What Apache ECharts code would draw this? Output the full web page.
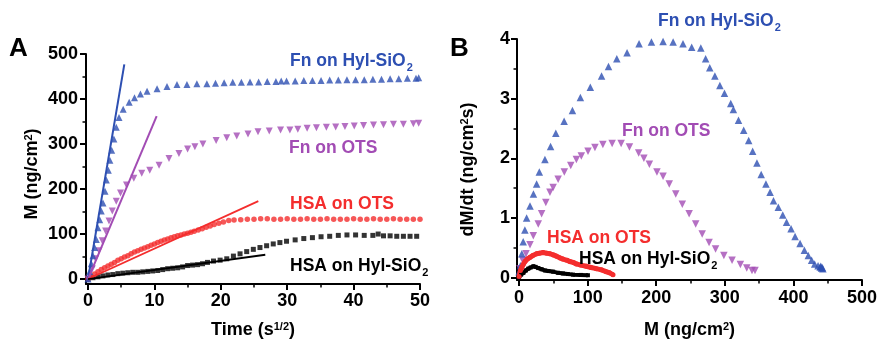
<!DOCTYPE html>
<html>
<head>
<meta charset="utf-8">
<script src="https://cdn.jsdelivr.net/npm/echarts@6/dist/echarts.min.js"></script>
<style>
html, body { margin: 0; padding: 0; background: #fff; }
#main { width: 880px; height: 344px; }
</style>
</head>
<body>
<div id="main"></div>
<script>
// panel A: adsorbed mass vs time (s^1/2)
const fnHylTimeA = [0, 0.25, 0.5, 0.75, 1.0, 1.25, 1.5, 1.76, 2.0, 2.26, 2.56, 2.76, 3.06, 3.3, 3.57, 3.9, 4.26, 4.67, 5.3, 6.2, 7.0, 7.9, 8.9, 10.4, 11.9, 13.4, 14.9, 16.4, 17.9, 19.2, 20.5, 21.8, 23.1, 24.4, 25.7, 27.0, 28.3, 29.1, 29.9, 31.2, 32.5, 33.8, 35.1, 36.4, 37.7, 39.0, 40.3, 41.6, 42.9, 44.2, 45.5, 46.8, 48.1, 49.4, 49.8];
const fnHylMassA = [0, 17, 34, 52, 70, 88, 114, 132, 151, 169, 195, 220, 242, 264, 286, 311, 337, 359, 377, 393, 403, 411, 417, 423, 428, 432, 432, 434, 434, 435, 436, 437, 437, 438, 438, 439, 439, 440, 440, 440, 441, 441, 441, 442, 442, 443, 443, 443, 444, 444, 445, 445, 446, 446, 447];

const fnOtsTimeA = [0, 0.65, 1.15, 1.66, 2.15, 2.66, 3.16, 3.66, 4.26, 4.9, 5.8, 6.9, 8.1, 9.3, 10.7, 12.2, 13.7, 15.0, 16.1, 17.3, 19.3, 20.9, 22.4, 24.1, 25.6, 27.3, 29.0, 30.4, 31.6, 33.0, 34.4, 35.9, 37.3, 38.7, 40.1, 41.5, 43.0, 44.5, 46.0, 47.5, 49.0, 49.8];
const fnOtsMassA = [0, 23, 45, 63, 85, 107, 129, 151, 173, 191, 209, 224, 235, 242, 253, 268, 279, 289, 294, 300, 308, 314, 318, 322, 327, 329, 331, 331, 333, 335, 336, 337, 338, 339, 340, 341, 342, 343, 344, 344, 345, 346];

const hsaOtsTimeA = [0, 0.5, 1.0, 1.5, 2.0, 2.5, 3.0, 3.5, 4.0, 4.5, 5.0, 5.5, 6.0, 6.5, 7.0, 7.5, 8.0, 8.5, 9.0, 9.5, 10.0, 10.5, 11.0, 11.5, 12.0, 12.5, 13.0, 13.5, 14.0, 14.5, 15.0, 15.5, 16.0, 16.6, 17.2, 17.8, 18.4, 19.0, 19.7, 20.4, 21.2, 22.0, 23.0, 24.0, 25.0, 26.0, 27.0, 28.0, 29.0, 30.0, 31.0, 32.0, 33.0, 34.0, 35.0, 36.0, 37.0, 38.0, 39.0, 40.0, 41.0, 42.0, 43.0, 44.0, 45.0, 46.0, 47.0, 48.0, 49.0, 50.0];
const hsaOtsMassA = [0, 5, 11, 16, 21, 25, 29, 33, 37, 42, 45, 49, 52, 56, 60, 63, 66, 69, 72, 75, 78, 81, 84, 87, 89, 92, 94, 96, 98, 100, 102, 104, 106, 109, 112, 115, 118, 121, 124, 127, 130, 131, 132, 133, 133, 134, 134, 133, 133, 134, 133, 133, 134, 133, 133, 134, 133, 133, 133, 134, 133, 133, 134, 133, 133, 134, 133, 133, 133, 133];

const hsaHylTimeA = [0, 0.75, 1.5, 2.25, 3.0, 3.75, 4.5, 5.25, 6.0, 6.75, 7.5, 8.25, 9.0, 9.75, 10.5, 11.25, 12.0, 12.75, 13.5, 14.25, 15.0, 15.75, 16.5, 17.25, 18.0, 18.9, 19.9, 20.9, 21.9, 22.9, 23.9, 24.9, 25.9, 26.9, 27.9, 28.9, 29.9, 31.2, 32.5, 33.8, 35.1, 36.4, 37.7, 39.0, 40.3, 41.6, 42.9, 43.7, 44.5, 45.5, 46.5, 47.5, 48.5, 49.5];
const hsaHylMassA = [0, 3, 5, 7, 9, 10, 12, 13, 14, 15, 15, 16, 17, 18, 19, 21, 23, 24, 25, 27, 30, 31, 32, 34, 37, 40, 42, 45, 51, 56, 61, 66, 70, 74, 78, 81, 84, 87, 90, 92, 94, 95, 97, 98, 98, 97, 97, 100, 96, 96, 95, 95, 95, 95];

// initial-slope fit lines, panel A
const fnHylFitT = [0, 5.47], fnHylFitM = [0, 477];
const fnOtsFitT = [0, 10.34], fnOtsFitM = [0, 362];
const hsaOtsFitT = [0, 25.65], hsaOtsFitM = [0, 173];
const hsaHylFitT = [0, 26.7], hsaHylFitM = [0, 54];

// panel B: adsorption rate vs adsorbed mass
const fnHylMassB = [0, 2, 4, 6, 8.5, 11, 16, 21, 25.6, 29.5, 37.7, 45.9, 53.6, 65.7, 77.8, 89.4, 103.9, 120.3, 130.4, 142.5, 157.5, 175, 193, 210, 224.6, 239, 251.7, 265, 272, 278, 285.5, 292.8, 299.5, 308.7, 312.5, 320, 327.5, 334.8, 340.6, 346.8, 353, 360, 366, 371, 378, 384.5, 390, 396.6, 402.4, 409.7, 416, 421.7, 426.6, 431, 436, 439, 441, 443, 442, 440];
const fnHylRateB = [0.1, 0.2, 0.4, 0.6, 0.8, 1.0, 1.2, 1.4, 1.57, 1.77, 1.98, 2.2, 2.42, 2.62, 2.8, 3.02, 3.19, 3.38, 3.54, 3.67, 3.77, 3.92, 3.95, 3.96, 3.95, 3.92, 3.86, 3.85, 3.67, 3.52, 3.38, 3.22, 3.09, 2.92, 2.82, 2.64, 2.47, 2.3, 2.12, 1.92, 1.73, 1.57, 1.43, 1.29, 1.18, 1.05, 0.93, 0.82, 0.69, 0.57, 0.46, 0.37, 0.29, 0.23, 0.2, 0.18, 0.16, 0.15, 0.17, 0.19];

const fnOtsMassB = [1.4, 5.3, 10.1, 16, 20.8, 28, 32.9, 39, 45, 49.7, 57, 66, 75.4, 83.6, 90.8, 100.5, 110.6, 122.2, 135.7, 148.8, 160.9, 174.4, 182, 190, 201, 210, 219, 228.5, 238, 248, 257.5, 267, 277, 286.5, 298.6, 310.6, 322.7, 332, 339.6, 344];
const fnOtsRateB = [0.15, 0.29, 0.4, 0.55, 0.7, 0.9, 1.07, 1.26, 1.43, 1.51, 1.65, 1.77, 1.88, 1.98, 2.04, 2.12, 2.18, 2.23, 2.25, 2.25, 2.19, 2.09, 2.0, 1.9, 1.77, 1.7, 1.57, 1.4, 1.23, 1.07, 0.9, 0.73, 0.59, 0.48, 0.37, 0.29, 0.22, 0.16, 0.12, 0.12];

const hsaOtsMassB = [0, 2, 3.9, 6, 8.7, 12, 16, 20, 25.6, 30, 35, 40, 45, 50, 54.6, 60, 64, 70, 73.9, 80, 83.6, 90, 98, 105, 112.6, 120, 127, 132, 137];
const hsaOtsRateB = [0.02, 0.12, 0.17, 0.22, 0.27, 0.31, 0.34, 0.37, 0.4, 0.41, 0.42, 0.41, 0.4, 0.38, 0.36, 0.33, 0.31, 0.29, 0.27, 0.25, 0.23, 0.21, 0.19, 0.17, 0.15, 0.13, 0.1, 0.08, 0.05];

const hsaHylMassB = [0, 3, 6.3, 10, 13.5, 17, 20.8, 24, 28, 33, 37.7, 43, 49.7, 57, 64, 71, 78.7, 90, 100.4];
const hsaHylRateB = [0, 0.05, 0.08, 0.12, 0.15, 0.17, 0.19, 0.18, 0.16, 0.14, 0.12, 0.11, 0.1, 0.08, 0.07, 0.06, 0.05, 0.045, 0.04];

// tick positions
const timeTicks = [0, 10, 20, 30, 40, 50];
const timeMinor = [5, 15, 25, 35, 45];
const massTicksA = [0, 100, 200, 300, 400, 500];
const massMinorA = [50, 150, 250, 350, 450];
const massTicksB = [0, 100, 200, 300, 400, 500];
const massMinorB = [50, 150, 250, 350, 450];
const rateTicks = [0, 1, 2, 3, 4];
const rateMinor = [0.5, 1.5, 2.5, 3.5];

const FONT = '"Liberation Sans", Arial, sans-serif';
const BLUE = '#2d4fb2';
const PURPLE = '#a24cb4';
const RED = '#f42d2d';
const BLACK = '#000';

const pts = (xs, ys) => xs.map((x, i) => [x, ys[i]]);

const labelStyle = {fontSize: 18, fontWeight: 'bold', color: '#000', fontFamily: FONT};
const nameStyle = (extra) => Object.assign({
    fontSize: 18, fontWeight: 'bold', color: '#000', fontFamily: FONT,
    rich: {sup: {fontSize: 11, fontWeight: 'bold', color: '#000', fontFamily: FONT, verticalAlign: 'top'}}
}, extra || {});

// main axis with labels + major ticks, and a bare axis for minor ticks
const mainAxis = (grid, min, max, ticks, margin, name, gap, nameExtra) => ({
    gridIndex: grid, type: 'value', min: min, max: max,
    axisLine: {onZero: false, lineStyle: {color: '#000', width: 2}},
    axisTick: {customValues: ticks, length: 6, lineStyle: {color: '#000', width: 2}},
    axisLabel: Object.assign({customValues: ticks, margin: margin}, labelStyle),
    splitLine: {show: false},
    name: name, nameLocation: 'middle', nameGap: gap, nameTextStyle: nameStyle(nameExtra)
});
const minorAxis = (grid, min, max, ticks, pos) => ({
    gridIndex: grid, type: 'value', min: min, max: max, position: pos,
    axisLine: {show: false, onZero: false},
    axisTick: {customValues: ticks, length: 3.5, lineStyle: {color: '#000', width: 1.5}},
    axisLabel: {show: false},
    splitLine: {show: false}
});

// subscript: padded token sitting at the bottom of the line box
const subRich = (color) => ({sub: {fontSize: 11, fontWeight: 'bold', color: color, fontFamily: FONT, verticalAlign: 'bottom', padding: [12, 0, 0, 1]}});
const note = (text, left, top, color) => ({
    text: text, left: left, top: top, padding: 0,
    textStyle: {fontSize: 17.5, fontWeight: 'bold', color: color, fontFamily: FONT, rich: subRich(color)}
});

const scatter = (xi, data, color, symbol, size, rotate) => ({
    type: 'scatter', xAxisIndex: xi, yAxisIndex: xi, data: data,
    symbol: symbol, symbolSize: size, symbolRotate: rotate || 0,
    itemStyle: {color: color}, z: 2
});
const fit = (data, color, width) => ({
    type: 'line', xAxisIndex: 0, yAxisIndex: 0, data: data, symbol: 'none',
    lineStyle: {color: color, width: width}, z: 3
});

const chart = echarts.init(document.getElementById('main'));
chart.setOption({
    animation: false,
    backgroundColor: '#fff',
    textStyle: {fontFamily: FONT},
    title: [
        {text: 'A', left: 9, top: 36, padding: 0, textStyle: {fontSize: 26, fontWeight: 'bold', color: '#000', fontFamily: FONT}},
        {text: 'B', left: 450, top: 36, padding: 0, textStyle: {fontSize: 26, fontWeight: 'bold', color: '#000', fontFamily: FONT}},
        note('Fn on Hyl-SiO{sub|2}', 290, 50, BLUE),
        note('Fn on OTS', 289, 139, PURPLE),
        note('HSA on OTS', 290, 195, RED),
        note('HSA on Hyl-SiO{sub|2}', 290, 255, BLACK),
        note('Fn on Hyl-SiO{sub|2}', 658, 10, BLUE),
        note('Fn on OTS', 622, 122, PURPLE),
        note('HSA on OTS', 547, 229, RED),
        note('HSA on Hyl-SiO{sub|2}', 579, 248, BLACK)
    ],
    grid: [
        {left: 86, top: 54, width: 334, height: 233},
        {left: 517, top: 39, width: 347, height: 242}
    ],
    xAxis: [
        mainAxis(0, -0.3, 50, timeTicks, 8, 'Time (s{sup|1/2})', 37),
        minorAxis(0, -0.3, 50, timeMinor, 'bottom'),
        mainAxis(1, -3, 500, massTicksB, 9, 'M (ng/cm{sup|2})', 41),
        minorAxis(1, -3, 500, massMinorB, 'bottom')
    ],
    yAxis: [
        mainAxis(0, -11, 500, massTicksA, 8, 'M (ng/cm{sup|2})', 45, {padding: [0, 10, 0, 0]}),
        minorAxis(0, -11, 500, massMinorA, 'left'),
        mainAxis(1, -0.04, 4, rateTicks, 7, 'dM/dt (ng/cm{sup|2}s)', 40, {padding: [0, 20, 0, 0]}),
        minorAxis(1, -0.04, 4, rateMinor, 'left')
    ],
    series: [
        scatter(0, pts(hsaHylTimeA, hsaHylMassA), BLACK, 'rect', 5),
        scatter(0, pts(hsaOtsTimeA, hsaOtsMassA), RED, 'circle', 5.5),
        scatter(0, pts(fnOtsTimeA, fnOtsMassA), PURPLE, 'triangle', 7, 180),
        scatter(0, pts(fnHylTimeA, fnHylMassA), BLUE, 'triangle', 7),
        fit(pts(fnHylFitT, fnHylFitM), BLUE, 2),
        fit(pts(fnOtsFitT, fnOtsFitM), PURPLE, 2),
        fit(pts(hsaOtsFitT, hsaOtsFitM), RED, 1.8),
        fit(pts(hsaHylFitT, hsaHylFitM), BLACK, 1.8),

        scatter(2, pts(fnOtsMassB, fnOtsRateB), PURPLE, 'triangle', 7.5, 180),
        scatter(2, pts(fnHylMassB, fnHylRateB), BLUE, 'triangle', 7.5),
        {
            type: 'line', xAxisIndex: 2, yAxisIndex: 2, data: pts(hsaHylMassB, hsaHylRateB),
            symbol: 'rect', symbolSize: 4, itemStyle: {color: BLACK},
            lineStyle: {color: BLACK, width: 4}, z: 3
        },
        {
            type: 'line', xAxisIndex: 2, yAxisIndex: 2, data: pts(hsaOtsMassB, hsaOtsRateB),
            symbol: 'circle', symbolSize: 5, itemStyle: {color: RED},
            lineStyle: {color: RED, width: 5}, z: 3
        }
    ]
});
</script>
</body>
</html>
